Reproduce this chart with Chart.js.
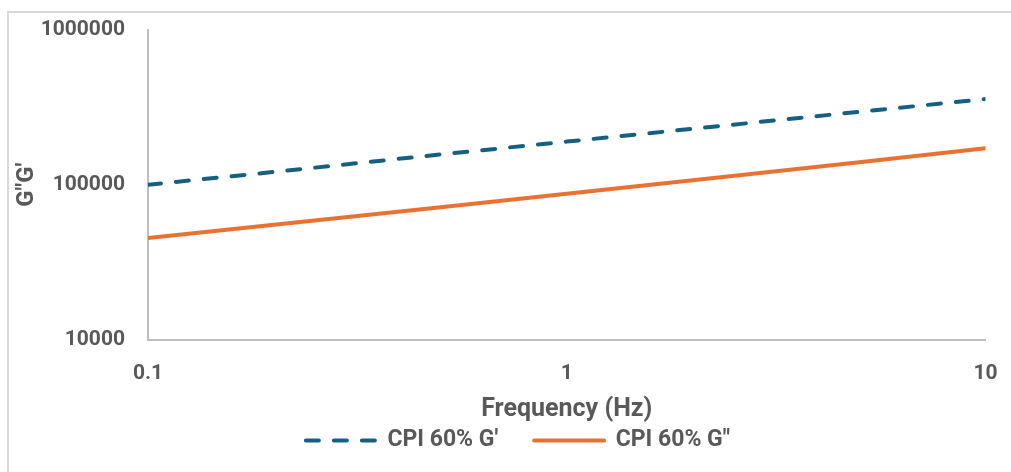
<!DOCTYPE html>
<html>
<head>
<meta charset="utf-8">
<script src="https://cdn.jsdelivr.net/npm/chart.js@4"></script>
<style>
  html, body { margin: 0; padding: 0; background: #fff; }
  #frame {
    position: absolute; left: 7px; top: 11px; width: 1010px; height: 470px;
    border: 2px solid #d9d9d9; box-sizing: border-box;
  }
  #wrap { position: absolute; left: 0; top: 0; width: 1011px; height: 472px; }
</style>
</head>
<body>
<div id="frame"></div>
<div id="wrap"><canvas id="chart" width="1011" height="472"></canvas></div>
<script>
// frequency sweep (Hz) and moduli (Pa)
const frequency = [0.1, 0.2, 0.5, 1, 2, 5, 10];
const storageModulus = [100000, 121000, 157000, 190000, 230000, 296000, 358000];
const lossModulus = [45300, 55200, 71600, 87400, 107000, 140000, 172000];

const seriesNames = ["CPI 60% G'", 'CPI 60% G"'];
const xTicks = [0.1, 1, 10];
const yTicks = [10000, 100000, 1000000];

const textColor = '#595959';
const fontFamily = 'Roboto, "Liberation Sans", sans-serif';

const toPoints = (vals) => frequency.map((f, i) => ({ x: f, y: vals[i] }));

// nudge the legend a bit right of the full-width center
const legendShift = {
  id: 'legendShift',
  afterLayout(chart) {
    chart.legend.left += 44;
  },
};

new Chart(document.getElementById('chart'), {
  type: 'line',
  data: {
    datasets: [
      {
        label: seriesNames[0],
        data: toPoints(storageModulus),
        borderColor: '#156082',
        borderWidth: 4,
        borderDash: [13, 15],
        borderCapStyle: 'round',
        pointRadius: 0,
      },
      {
        label: seriesNames[1],
        data: toPoints(lossModulus),
        borderColor: '#E97132',
        borderWidth: 4,
        borderCapStyle: 'round',
        pointRadius: 0,
      },
    ],
  },
  options: {
    responsive: false,
    animation: false,
    layout: { padding: { left: 0, right: 19, top: 30, bottom: 10 } },
    plugins: {
      tooltip: { enabled: false },
      legend: {
        position: 'bottom',
        labels: {
          color: textColor,
          font: { family: fontFamily, size: 23, weight: 'bold' },
          padding: 36,
          usePointStyle: true,
          pointStyleWidth: 70,
          generateLabels(chart) {
            return chart.data.datasets.map((ds, i) => ({
              text: ds.label,
              datasetIndex: i,
              pointStyle: 'line',
              strokeStyle: ds.borderColor,
              fillStyle: ds.borderColor,
              lineWidth: 4,
              lineDash: ds.borderDash || [],
              lineCap: 'round',
              fontColor: textColor,
            }));
          },
        },
      },
    },
    scales: {
      x: {
        type: 'logarithmic',
        min: 0.1,
        max: 10,
        grid: { display: false },
        border: { display: true, color: '#bfbfbf', width: 2 },
        afterBuildTicks(scale) {
          scale.ticks = xTicks.map((v) => ({ value: v }));
        },
        afterFit(scale) {
          scale.height = 53.5;
        },
        ticks: {
          color: textColor,
          padding: 13.5,
          font: { family: fontFamily, size: 21, weight: 'bold' },
          callback: (v) => String(v),
        },
        title: {
          display: true,
          text: 'Frequency (Hz)',
          color: textColor,
          font: { family: fontFamily, size: 25, weight: 'bold' },
          padding: { top: 0, bottom: -32 },
        },
      },
      y: {
        type: 'logarithmic',
        min: 10000,
        max: 1000000,
        grid: { display: false },
        border: { display: true, color: '#bfbfbf', width: 2 },
        afterBuildTicks(scale) {
          scale.ticks = yTicks.map((v) => ({ value: v }));
        },
        afterFit(scale) {
          scale.width = 148;
        },
        ticks: {
          color: textColor,
          padding: 15,
          font: { family: fontFamily, size: 21, weight: 'bold' },
          callback: (v) => String(v),
        },
        title: {
          display: true,
          text: 'G"G\'',
          color: textColor,
          font: { family: fontFamily, size: 24, weight: 'bold' },
          padding: { top: 13, bottom: 0 },
        },
      },
    },
  },
  plugins: [legendShift],
});
</script>
</body>
</html>
